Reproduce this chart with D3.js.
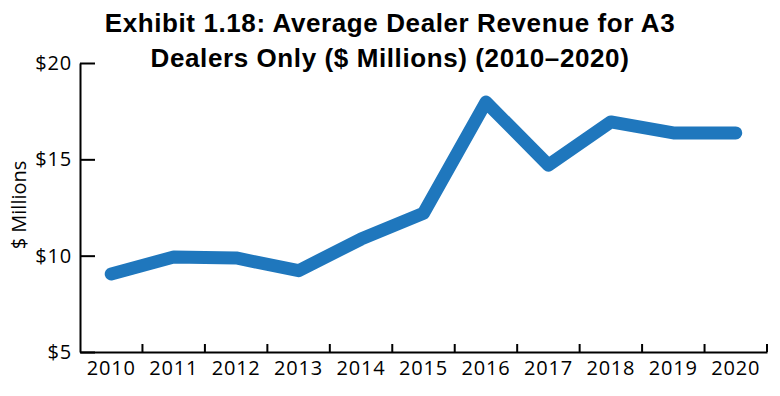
<!DOCTYPE html>
<html>
<head>
<meta charset="utf-8">
<script src="https://cdn.jsdelivr.net/npm/d3@7"></script>
<style>
  body { margin: 0; background: #fff; }
  svg { display: block; }
</style>
</head>
<body>
<div class="chart"></div>
<script>
var years = ['2010', '2011', '2012', '2013', '2014', '2015', '2016', '2017', '2018', '2019', '2020'];
var revenue = [9.05, 9.93, 9.88, 9.22, 10.86, 12.2, 17.97, 14.7, 16.94, 16.37, 16.37];
var yTicks = [5, 10, 15, 20];
var titleLines = ['Exhibit 1.18: Average Dealer Revenue for A3', 'Dealers Only ($ Millions) (2010\u20132020)'];
var yLabel = '$ Millions';

var width = 780,
  height = 396,
  plotLeft = 80,
  plotRight = 767,
  plotTop = 63,
  plotBottom = 352;

var tickFont = "'Open Sans', 'Noto Sans', sans-serif";

var svg = d3.select('.chart')
  .append('svg')
  .attr('width', width)
  .attr('height', height);

var x = d3.scaleBand()
  .domain(years)
  .range([plotLeft, plotRight])
  .padding(0);

var y = d3.scaleLinear()
  .domain([5, 20])
  .range([plotBottom, plotTop]);

// title
svg.append('text')
  .attr('text-anchor', 'middle')
  .style('font-family', "'Liberation Sans', Arial, sans-serif")
  .style('font-weight', 'bold')
  .style('font-size', '26px')
  .style('letter-spacing', '0.6px')
  .selectAll('tspan')
  .data(titleLines)
  .enter().append('tspan')
  .attr('x', 390)
  .attr('y', function (d, i) { return 32 + i * 35; })
  .text(function (d) { return d; });

// x axis - labels at band centers, ticks at band edges
var xaxis = svg.append('g')
  .attr('transform', 'translate(0,' + plotBottom + ')')
  .call(d3.axisBottom(x).tickSize(0).tickPadding(9).tickSizeOuter(0));

xaxis.select('.domain').attr('stroke', '#000').attr('stroke-width', 2);
xaxis.selectAll('text')
  .style('font-family', tickFont)
  .style('font-size', '20px')
  .style('letter-spacing', '0.8px')
  .attr('fill', '#000');

xaxis.selectAll('.edge')
  .data(years)
  .enter().append('line')
  .attr('class', 'edge')
  .attr('x1', function (d) { return x(d) + x.bandwidth(); })
  .attr('x2', function (d) { return x(d) + x.bandwidth(); })
  .attr('y1', 0)
  .attr('y2', -8)
  .attr('stroke', '#000')
  .attr('stroke-width', 2);

// y axis
var yaxis = svg.append('g')
  .attr('transform', 'translate(' + plotLeft + ',0)')
  .call(d3.axisLeft(y)
    .tickValues(yTicks)
    .tickSize(-15)
    .tickPadding(8)
    .tickSizeOuter(0)
    .tickFormat(function (d) { return '$' + d; }));

yaxis.select('.domain').attr('stroke', '#000').attr('stroke-width', 2);
yaxis.selectAll('.tick line').attr('stroke', '#000').attr('stroke-width', 2);
yaxis.selectAll('text')
  .style('font-family', tickFont)
  .style('font-size', '20px')
  .style('letter-spacing', '0.8px')
  .attr('fill', '#000');

svg.append('text')
  .attr('text-anchor', 'middle')
  .attr('transform', 'translate(26,' + 205 + ')rotate(-90)')
  .style('font-family', tickFont)
  .style('font-size', '20px')
  .text(yLabel);

// line
var line = d3.line()
  .x(function (d, i) { return x(years[i]) + x.bandwidth() / 2; })
  .y(function (d) { return y(d); });

svg.append('path')
  .datum(revenue)
  .attr('d', line)
  .attr('fill', 'none')
  .attr('stroke', '#1f77bd')
  .attr('stroke-width', 13)
  .attr('stroke-linecap', 'round')
  .attr('stroke-linejoin', 'round');
</script>
</body>
</html>
